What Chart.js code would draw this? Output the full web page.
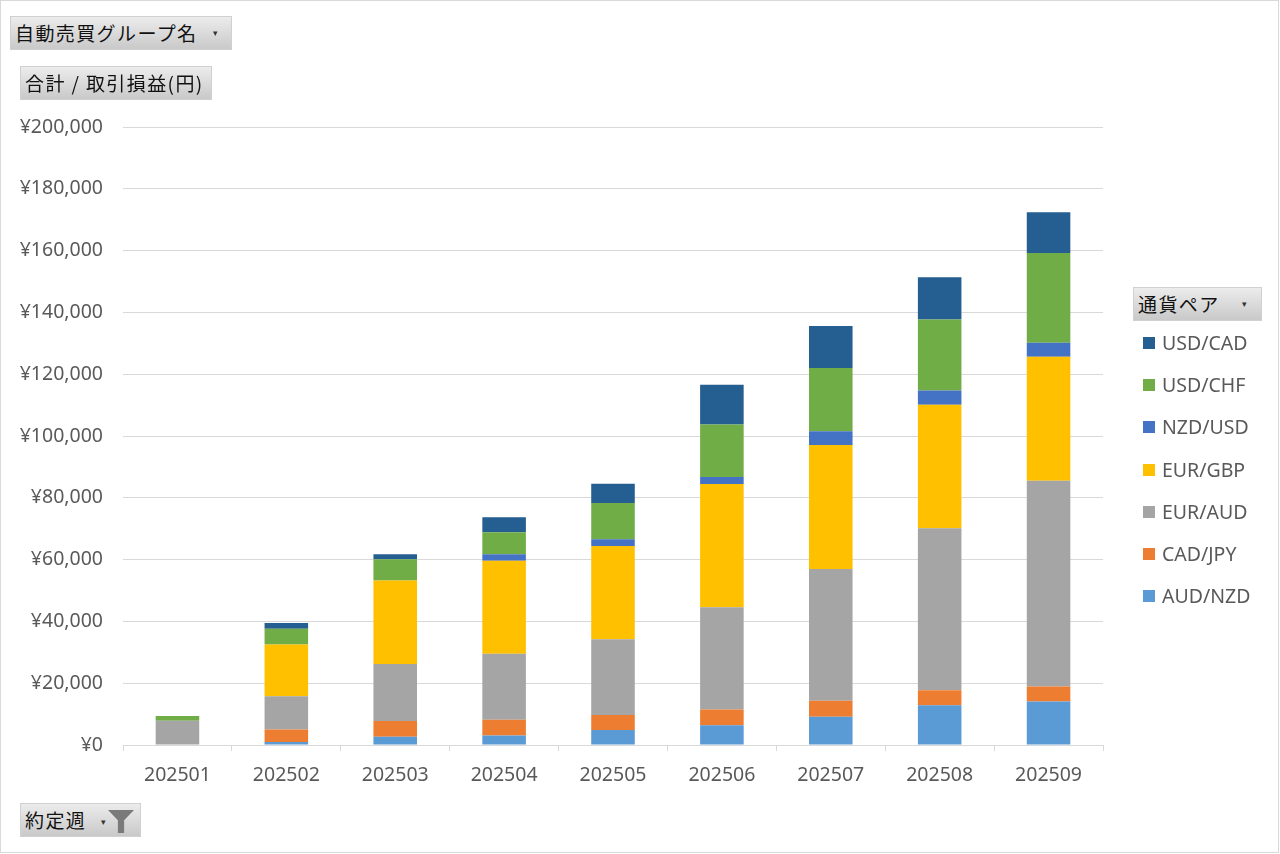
<!DOCTYPE html>
<html lang="ja">
<head>
<meta charset="utf-8">
<title>取引損益</title>
<script src="https://cdn.jsdelivr.net/npm/chart.js@4.4.1/dist/chart.umd.min.js"></script>
<style>
  html, body { margin: 0; padding: 0; background: #ffffff; }
  #wrap { position: relative; width: 1280px; height: 854px; overflow: hidden; background: #fff;
          font-family: 'Noto Sans CJK JP', 'Noto Sans', sans-serif; }
  #frame { position: absolute; left: 0; top: 0; width: 1277px; height: 851px; border: 1px solid #d9d9d9; pointer-events: none; }
  canvas { position: absolute; left: 0; top: 0; }
  .btn { position: absolute; box-sizing: border-box; border: 1px solid #d0d0d0;
         background: linear-gradient(#ececec, #c9c9c9); color: #111; font-size: 19px;
         line-height: 32px; height: 34px; padding-left: 4px; white-space: nowrap; letter-spacing: 1.4px; }
  .arrow { position: absolute; font-size: 9px; color: #333; line-height: 10px; }
  .funnel { position: absolute; width: 26px; height: 23px; background: #7a7a7a;
            clip-path: polygon(0 0, 100% 0, 62% 45%, 62% 100%, 38% 100%, 38% 45%); }
  #legend { position: absolute; left: 1143px; top: 331px; font-family: 'Noto Sans', sans-serif; }
  .li { position: relative; height: 42.2px; font-size: 19.5px; color: #595959; line-height: 24px; white-space: nowrap; }
  .li span.box { position: absolute; left: 0; top: 6px; width: 12px; height: 12px; }
  .li span.txt { position: absolute; left: 19px; top: 0px; }
</style>
</head>
<body>
<div id="wrap">
  <canvas id="c" width="1280" height="854"></canvas>
  <div class="btn" style="left:10px;top:16px;width:222px;">自動売買グループ名</div>
  <div class="arrow" style="left:213px;top:28px;">▾</div>
  <div class="btn" style="left:20px;top:66px;width:192px;">合計 / 取引損益(円)</div>
  <div class="btn" style="left:1133px;top:287px;width:129px;">通貨ペア</div>
  <div class="arrow" style="left:1242px;top:299px;">▾</div>
  <div class="btn" style="left:20px;top:803px;width:121px;">約定週</div>
  <div class="arrow" style="left:101px;top:817px;">▾</div>
  <div class="funnel" style="left:108px;top:810px;"></div>
  <div id="legend"></div>
  <div id="frame"></div>
</div>
<script>
const categories = ['202501','202502','202503','202504','202505','202506','202507','202508','202509'];
const seriesNames = ['AUD/NZD','CAD/JPY','EUR/AUD','EUR/GBP','NZD/USD','USD/CHF','USD/CAD'];
const audNzd = [0, 1000, 2700, 3100, 4850, 6400, 9150, 12850, 14100];
const cadJpy = [0, 4000, 5100, 5050, 4850, 5050, 5200, 4850, 4850];
const eurAud = [7850, 10800, 18400, 21350, 24500, 33150, 42600, 52450, 66600];
const eurGbp = [0, 16700, 27000, 30100, 30200, 39900, 40150, 40000, 40100];
const nzdUsd = [0, 0, 0, 2150, 2150, 2250, 4400, 4550, 4550];
const usdChf = [1500, 5100, 6900, 7100, 11750, 16950, 20500, 23000, 29050];
const usdCad = [0, 1850, 1600, 4850, 6250, 12850, 13600, 13700, 13200];
const seriesValues = [audNzd, cadJpy, eurAud, eurGbp, nzdUsd, usdChf, usdCad];
const seriesColors = ['#5B9BD5','#ED7D31','#A5A5A5','#FFC000','#4472C4','#70AD47','#255E91'];
const yTickValues = [0, 20000, 40000, 60000, 80000, 100000, 120000, 140000, 160000, 180000, 200000];

const datasets = seriesNames.map((name, i) => ({
  label: name,
  data: seriesValues[i],
  backgroundColor: seriesColors[i],
  borderWidth: 0,
  categoryPercentage: 1.0,
  barPercentage: 0.4
}));

Chart.defaults.font.family = "'Noto Sans', 'Noto Sans CJK JP', sans-serif";

new Chart(document.getElementById('c'), {
  type: 'bar',
  data: { labels: categories, datasets },
  options: {
    responsive: false,
    devicePixelRatio: 1,
    animation: false,
    layout: { padding: { left: 0, right: 177, top: 127, bottom: 0 } },
    plugins: { legend: { display: false }, tooltip: { enabled: false } },
    scales: {
      x: {
        stacked: true,
        grid: { display: true, drawOnChartArea: false, drawTicks: true, tickLength: 6, color: '#d9d9d9', offset: true },
        border: { display: true, color: '#d9d9d9', width: 1 },
        ticks: { color: '#595959', font: { size: 19.5 }, padding: 13, maxRotation: 0 },
        afterFit: (s) => { s.height = 109; }
      },
      y: {
        stacked: true,
        min: 0, max: 200000,
        afterBuildTicks: (s) => { s.ticks = yTickValues.map(v => ({ value: v })); },
        grid: { color: '#d9d9d9', drawTicks: false, lineWidth: 1 },
        border: { display: false },
        ticks: {
          color: '#595959', font: { size: 19.5 }, padding: 20,
          callback: (v) => '¥' + Number(v).toLocaleString('en-US')
        },
        afterFit: (s) => { s.width = 123; }
      }
    }
  }
});

const legend = document.getElementById('legend');
for (let i = seriesNames.length - 1; i >= 0; i--) {
  const row = document.createElement('div');
  row.className = 'li';
  const box = document.createElement('span');
  box.className = 'box';
  box.style.background = seriesColors[i];
  const txt = document.createElement('span');
  txt.className = 'txt';
  txt.textContent = seriesNames[i];
  row.appendChild(box); row.appendChild(txt);
  legend.appendChild(row);
}
</script>
</body>
</html>
